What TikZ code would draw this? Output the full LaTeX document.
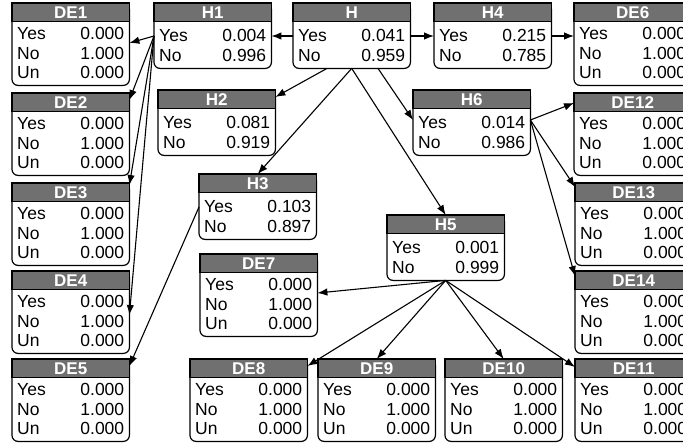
\documentclass[tikz,border=0pt]{standalone}
\usepackage{fontspec}
\setmainfont{Liberation Sans}
\usetikzlibrary{calc,arrows.meta}
\definecolor{hdr}{RGB}{112,112,112}
\tikzset{
  boxframe/.style={rectangle, inner sep=0pt, minimum width=117pt},
  boxline/.style={line width=1.2pt, draw=black},
  hdrtext/.style={anchor=base, inner sep=0pt, text=white, font=\fontsize{17}{19}\selectfont\bfseries},
  rowl/.style={anchor=base west, inner sep=0pt, font=\fontsize{17.5}{19}\selectfont},
  rowr/.style={anchor=base east, inner sep=0pt, font=\fontsize{17.5}{19}\selectfont},
  conn/.style={line width=1.1pt, -{Latex[length=10pt,width=7.5pt]}},
}
\newcommand\mkframe[5]{% name, x, ytop, height, title
  \node[boxframe, minimum height=#4pt, anchor=north west] (#1) at (#2pt,-#3pt) {};
  \draw[boxline, rounded corners=6pt, fill=white] (#1.north west) rectangle (#1.south east);
  \draw[boxline, fill=hdr] (#1.north west) rectangle ($(#1.north east)+(0,-18.5pt)$);
  \node[hdrtext] (#1-t) at ($(#1.north)+(0,-15pt)$) {#5};
}
\newcommand\mkH[6]{% name x y title yes no
  \mkframe{#1}{#2}{#3}{65}{#4}
  \node[rowl] (#1-a) at ($(#1.north west)+(5pt,-38.5pt)$) {Yes};
  \node[rowr] (#1-b) at ($(#1.north east)+(-5pt,-38.5pt)$) {#5};
  \node[rowl] (#1-c) at ($(#1.north west)+(5pt,-58pt)$) {No};
  \node[rowr] (#1-d) at ($(#1.north east)+(-5pt,-58pt)$) {#6};
}
\newcommand\mkDE[7]{% name x y title yes no un
  \mkframe{#1}{#2}{#3}{82}{#4}
  \node[rowl] (#1-a) at ($(#1.north west)+(5pt,-36.5pt)$) {Yes};
  \node[rowr] (#1-b) at ($(#1.north east)+(-5pt,-36.5pt)$) {#5};
  \node[rowl] (#1-c) at ($(#1.north west)+(5pt,-56pt)$) {No};
  \node[rowr] (#1-d) at ($(#1.north east)+(-5pt,-56pt)$) {#6};
  \node[rowl] (#1-e) at ($(#1.north west)+(5pt,-75pt)$) {Un};
  \node[rowr] (#1-f) at ($(#1.north east)+(-5pt,-75pt)$) {#7};
}
\begin{document}
\begin{tikzpicture}[x=1pt,y=1pt]
\useasboundingbox (0,0) rectangle (683,-445);
\clip (0,0) rectangle (683,-445);
\fill[white] (0,0) rectangle (683,-445);
% left column
\mkDE{DE1}{12}{3}{DE1}{0.000}{1.000}{0.000}
\mkDE{DE2}{12}{93}{DE2}{0.000}{1.000}{0.000}
\mkDE{DE3}{12}{183}{DE3}{0.000}{1.000}{0.000}
\mkDE{DE4}{12}{271}{DE4}{0.000}{1.000}{0.000}
\mkDE{DE5}{12}{359}{DE5}{0.000}{1.000}{0.000}
% top row
\mkH{H1}{154}{3}{H1}{0.004}{0.996}
\mkH{H}{293}{3}{H}{0.041}{0.959}
\mkH{H4}{434}{3}{H4}{0.215}{0.785}
\mkDE{DE6}{574}{3}{DE6}{0.000}{1.000}{0.000}
% middle
\mkH{H2}{158}{90}{H2}{0.081}{0.919}
\mkH{H6}{413}{90}{H6}{0.014}{0.986}
\mkDE{DE12}{574}{93}{DE12}{0.000}{1.000}{0.000}
\mkH{H3}{199}{174}{H3}{0.103}{0.897}
\mkDE{DE13}{575}{183}{DE13}{0.000}{1.000}{0.000}
\mkH{H5}{387}{215}{H5}{0.001}{0.999}
\mkDE{DE7}{200}{254}{DE7}{0.000}{1.000}{0.000}
\mkDE{DE14}{575}{271}{DE14}{0.000}{1.000}{0.000}
% bottom row
\mkDE{DE8}{190}{359}{DE8}{0.000}{1.000}{0.000}
\mkDE{DE9}{318}{359}{DE9}{0.000}{1.000}{0.000}
\mkDE{DE10}{445}{359}{DE10}{0.000}{1.000}{0.000}
\mkDE{DE11}{575}{359}{DE11}{0.000}{1.000}{0.000}
% connectors
\coordinate (H1o) at ($(H1.north west)+(0,-33)$);
\draw[conn] (H1o) -- ($(DE1.north east)+(0,-40)$);
\draw[conn] (H1o) -- ($(DE2.north east)+(0,-7)$);
\draw[conn] (H1o) -- ($(DE3.north east)+(0,-2)$);
\draw[conn] (H1o) -- ($(DE4.north east)+(0,-44)$);
\draw[conn] ($(H3.north west)+(0,-33)$) -- ($(DE5.north east)+(0,-7)$);
\draw[conn] ($(H.north west)+(0,-33)$) -- ($(H1.north east)+(0,-33)$);
\draw[conn] ($(H.north east)+(0,-33)$) -- ($(H4.north west)+(0,-33)$);
\draw[conn] ($(H4.north east)+(0,-33)$) -- ($(DE6.north west)+(0,-33)$);
\draw[conn] ($(H.south west)+(34,0)$) -- ($(H2.north east)+(0,-7)$);
\draw[conn] (H.south) -- (H3.north);
\draw[conn] (H.south) -- (H5.north);
\draw[conn] ($(H.south west)+(85,0)$) -- ($(H6.north west)+(0,-30)$);
\coordinate (H6o) at ($(H6.north east)+(0,-30)$);
\draw[conn] (H6o) -- ($(DE12.north west)+(0,-10)$);
\draw[conn] (H6o) -- ($(DE13.north west)+(0,-4)$);
\draw[conn] (H6o) -- ($(DE14.north west)+(0,-5)$);
\draw[conn] (H5.south) -- ($(DE7.north east)+(0,-39)$);
\draw[conn] (H5.south) -- ($(DE8.north east)+(0,-7)$);
\draw[conn] (H5.south) -- (DE9.north);
\draw[conn] (H5.south) -- (DE10.north);
\draw[conn] (H5.south) -- ($(DE11.north west)+(0,-8)$);
\end{tikzpicture}
\end{document}
